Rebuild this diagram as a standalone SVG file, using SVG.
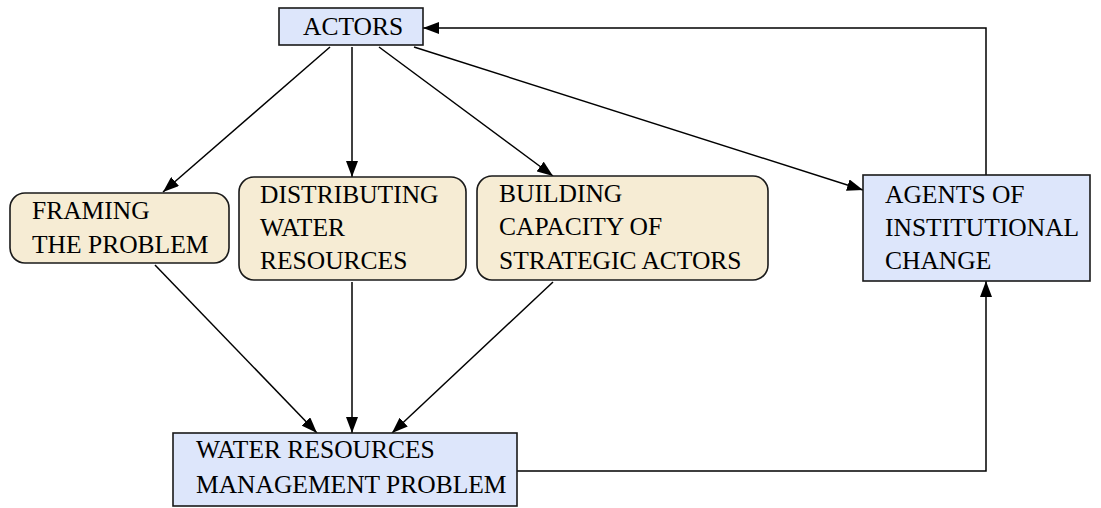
<svg xmlns="http://www.w3.org/2000/svg" width="1101" height="508" viewBox="0 0 1101 508">
<style>
.blue{fill:#dde6fb;stroke:#1a1a1a;stroke-width:1.6}
.beige{fill:#f6ecd4;stroke:#1a1a1a;stroke-width:1.6}
text{font-family:"Liberation Serif",Tinos,"Times New Roman",Times,"Nimbus Roman","DejaVu Serif",serif;font-size:25.5px;fill:#000}
.edge{fill:none;stroke:#000;stroke-width:1.5}
</style>
<defs>
<marker id="ah" viewBox="0 0 16 12" refX="16" refY="6" markerWidth="16" markerHeight="12" markerUnits="userSpaceOnUse" orient="auto">
<path d="M0,0 L16,6 L0,12 Z" fill="#000"/>
</marker>
</defs>
<g id="connectors">
<line class="edge" x1="330" y1="47" x2="163" y2="192" marker-end="url(#ah)"/>
<line class="edge" x1="352" y1="47" x2="352" y2="177" marker-end="url(#ah)"/>
<line class="edge" x1="379" y1="47" x2="553" y2="176" marker-end="url(#ah)"/>
<line class="edge" x1="414" y1="47" x2="863" y2="190" marker-end="url(#ah)"/>
<line class="edge" x1="155" y1="265" x2="317" y2="433" marker-end="url(#ah)"/>
<line class="edge" x1="352" y1="282" x2="352" y2="433" marker-end="url(#ah)"/>
<line class="edge" x1="553" y1="282" x2="392" y2="433" marker-end="url(#ah)"/>
<polyline class="edge" points="517,471 986,471 986,281" marker-end="url(#ah)"/>
<polyline class="edge" points="986,175 986,28 423,28" marker-end="url(#ah)"/>
</g>
<g id="actors">
<rect class="blue" x="279" y="8" width="144" height="37"/>
<text x="303" y="35">ACTORS</text>
</g>
<g id="framing">
<rect class="beige" x="10" y="193" width="219" height="70" rx="15"/>
<text x="32" y="219">FRAMING</text>
<text x="32" y="253">THE PROBLEM</text>
</g>
<g id="distributing">
<rect class="beige" x="239" y="177" width="227" height="103" rx="15"/>
<text x="260" y="203">DISTRIBUTING</text>
<text x="260" y="236">WATER</text>
<text x="260" y="269">RESOURCES</text>
</g>
<g id="building">
<rect class="beige" x="477" y="176" width="291" height="104" rx="15"/>
<text x="499" y="202">BUILDING</text>
<text x="499" y="235">CAPACITY OF</text>
<text x="499" y="269">STRATEGIC ACTORS</text>
</g>
<g id="agents">
<rect class="blue" x="863" y="175" width="227" height="106"/>
<text x="885" y="203">AGENTS OF</text>
<text x="885" y="236">INSTITUTIONAL</text>
<text x="885" y="269">CHANGE</text>
</g>
<g id="water">
<rect class="blue" x="173" y="433" width="344" height="73"/>
<text x="196" y="458">WATER RESOURCES</text>
<text x="196" y="493">MANAGEMENT PROBLEM</text>
</g>
</svg>
